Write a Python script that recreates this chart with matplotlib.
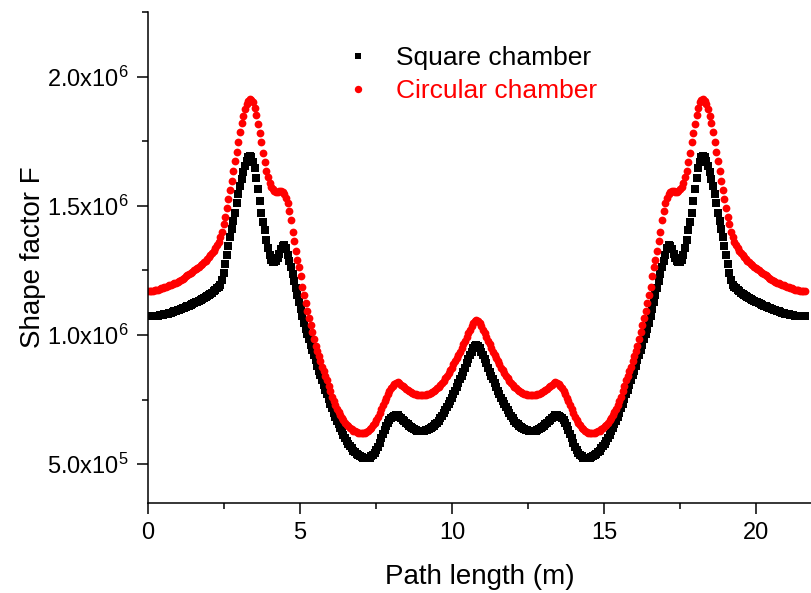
import numpy as np
import matplotlib
matplotlib.use("Agg")
import matplotlib.pyplot as plt
from matplotlib.ticker import FixedLocator, FixedFormatter

plt.rcParams['font.family'] = ['Liberation Sans', 'DejaVu Sans']
plt.rcParams['mathtext.fontset'] = 'custom'
plt.rcParams['mathtext.rm'] = 'Liberation Sans'
plt.rcParams['mathtext.default'] = 'regular'

# path length samples (m), 401 points over one 21.6 m turn
path = np.linspace(0, 21.6, 401)

# shape factor, units of 1e6
square = [
    1.072, 1.072, 1.073, 1.073, 1.074, 1.074, 1.075, 1.076, 1.077, 1.078,
    1.080, 1.081, 1.083, 1.085, 1.087, 1.089, 1.091, 1.093, 1.095, 1.098,
    1.100, 1.103, 1.106, 1.108, 1.111, 1.114, 1.117, 1.120, 1.123, 1.126,
    1.129, 1.133, 1.137, 1.140, 1.144, 1.148, 1.152, 1.156, 1.160, 1.164,
    1.169, 1.174, 1.180, 1.187, 1.195, 1.212, 1.240, 1.275, 1.310, 1.345,
    1.380, 1.412, 1.443, 1.474, 1.510, 1.545, 1.577, 1.604, 1.630, 1.655,
    1.675, 1.687, 1.693, 1.688, 1.670, 1.645, 1.608, 1.565, 1.520, 1.473,
    1.438, 1.405, 1.368, 1.335, 1.310, 1.292, 1.283, 1.281, 1.287, 1.299,
    1.314, 1.331, 1.344, 1.348, 1.336, 1.310, 1.288, 1.262, 1.236, 1.210,
    1.183, 1.155, 1.127, 1.100, 1.072, 1.046, 1.024, 1.003, 0.983, 0.963,
    0.943, 0.922, 0.902, 0.881, 0.861, 0.844, 0.826, 0.807, 0.789, 0.770,
    0.751, 0.732, 0.716, 0.700, 0.684, 0.669, 0.655, 0.640, 0.627, 0.614,
    0.602, 0.591, 0.580, 0.570, 0.561, 0.553, 0.546, 0.540, 0.535, 0.531,
    0.527, 0.525, 0.523, 0.523, 0.524, 0.526, 0.530, 0.536, 0.545, 0.555,
    0.568, 0.583, 0.600, 0.617, 0.633, 0.648, 0.661, 0.671, 0.678, 0.683,
    0.687, 0.689, 0.689, 0.684, 0.678, 0.672, 0.666, 0.660, 0.654, 0.648,
    0.643, 0.639, 0.635, 0.632, 0.630, 0.628, 0.628, 0.628, 0.629, 0.631,
    0.633, 0.636, 0.639, 0.643, 0.648, 0.654, 0.661, 0.669, 0.678, 0.688,
    0.698, 0.709, 0.721, 0.733, 0.745, 0.758, 0.771, 0.785, 0.799, 0.813,
    0.828, 0.843, 0.858, 0.874, 0.890, 0.906, 0.921, 0.936, 0.949, 0.958,
    0.963,
    0.958, 0.949, 0.936, 0.921, 0.906, 0.890, 0.874, 0.858, 0.843, 0.828,
    0.813, 0.799, 0.785, 0.771, 0.758, 0.745, 0.733, 0.721, 0.709, 0.698,
    0.688, 0.678, 0.669, 0.661, 0.654, 0.648, 0.643, 0.639, 0.636, 0.633,
    0.631, 0.629, 0.628, 0.628, 0.628, 0.630, 0.632, 0.635, 0.639, 0.643,
    0.648, 0.654, 0.660, 0.666, 0.672, 0.678, 0.684, 0.689, 0.689, 0.687,
    0.683, 0.678, 0.671, 0.661, 0.648, 0.633, 0.617, 0.600, 0.583, 0.568,
    0.555, 0.545, 0.536, 0.530, 0.526, 0.524, 0.523, 0.523, 0.525, 0.527,
    0.531, 0.535, 0.540, 0.546, 0.553, 0.561, 0.570, 0.580, 0.591, 0.602,
    0.614, 0.627, 0.640, 0.655, 0.669, 0.684, 0.700, 0.716, 0.732, 0.751,
    0.770, 0.789, 0.807, 0.826, 0.844, 0.861, 0.881, 0.902, 0.922, 0.943,
    0.963, 0.983, 1.003, 1.024, 1.046, 1.072, 1.100, 1.127, 1.155, 1.183,
    1.210, 1.236, 1.262, 1.288, 1.310, 1.336, 1.348, 1.344, 1.331, 1.314,
    1.299, 1.287, 1.281, 1.283, 1.292, 1.310, 1.335, 1.368, 1.405, 1.438,
    1.473, 1.520, 1.565, 1.608, 1.645, 1.670, 1.688, 1.693, 1.687, 1.675,
    1.655, 1.630, 1.604, 1.577, 1.545, 1.510, 1.474, 1.443, 1.412, 1.380,
    1.345, 1.310, 1.275, 1.240, 1.212, 1.195, 1.187, 1.180, 1.174, 1.169,
    1.164, 1.160, 1.156, 1.152, 1.148, 1.144, 1.140, 1.137, 1.133, 1.129,
    1.126, 1.123, 1.120, 1.117, 1.114, 1.111, 1.108, 1.106, 1.103, 1.100,
    1.098, 1.095, 1.093, 1.091, 1.089, 1.087, 1.085, 1.083, 1.081, 1.080,
    1.078, 1.077, 1.076, 1.075, 1.074, 1.074, 1.073, 1.073, 1.072, 1.072,
]

circular = [
    1.170, 1.170, 1.171, 1.172, 1.173, 1.175, 1.176, 1.178, 1.180, 1.182,
    1.184, 1.186, 1.189, 1.192, 1.194, 1.197, 1.200, 1.203, 1.207, 1.210,
    1.214, 1.218, 1.222, 1.227, 1.231, 1.236, 1.240, 1.245, 1.250, 1.255,
    1.260, 1.265, 1.270, 1.276, 1.282, 1.288, 1.294, 1.301, 1.308, 1.316,
    1.325, 1.335, 1.347, 1.361, 1.378, 1.400, 1.428, 1.458, 1.490, 1.525,
    1.560, 1.597, 1.635, 1.672, 1.710, 1.748, 1.785, 1.820, 1.848, 1.873,
    1.893, 1.906, 1.913, 1.910, 1.900, 1.880, 1.852, 1.818, 1.782, 1.745,
    1.705, 1.668, 1.636, 1.610, 1.590, 1.574, 1.564, 1.557, 1.554, 1.554,
    1.556, 1.557, 1.554, 1.546, 1.530, 1.510, 1.480, 1.444, 1.398, 1.362,
    1.326, 1.292, 1.262, 1.228, 1.185, 1.155, 1.124, 1.094, 1.065, 1.038,
    1.010, 0.983, 0.958, 0.937, 0.917, 0.898, 0.878, 0.860, 0.843, 0.825,
    0.804, 0.782, 0.762, 0.744, 0.728, 0.714, 0.701, 0.690, 0.679, 0.670,
    0.661, 0.653, 0.646, 0.640, 0.635, 0.630, 0.627, 0.624, 0.621, 0.620,
    0.620, 0.620, 0.622, 0.625, 0.629, 0.635, 0.642, 0.650, 0.660, 0.671,
    0.684, 0.698, 0.713, 0.728, 0.743, 0.757, 0.771, 0.783, 0.794, 0.803,
    0.811, 0.816, 0.818, 0.814, 0.808, 0.802, 0.797, 0.792, 0.787, 0.783,
    0.779, 0.776, 0.773, 0.771, 0.769, 0.768, 0.767, 0.767, 0.768, 0.769,
    0.771, 0.773, 0.776, 0.779, 0.783, 0.788, 0.794, 0.800, 0.807, 0.815,
    0.823, 0.832, 0.842, 0.852, 0.863, 0.874, 0.886, 0.898, 0.910, 0.923,
    0.936, 0.950, 0.964, 0.978, 0.992, 1.006, 1.020, 1.034, 1.046, 1.054,
    1.057,
    1.054, 1.046, 1.034, 1.020, 1.006, 0.992, 0.978, 0.964, 0.950, 0.936,
    0.923, 0.910, 0.898, 0.886, 0.874, 0.863, 0.852, 0.842, 0.832, 0.823,
    0.815, 0.807, 0.800, 0.794, 0.788, 0.783, 0.779, 0.776, 0.773, 0.771,
    0.769, 0.768, 0.767, 0.767, 0.768, 0.769, 0.771, 0.773, 0.776, 0.779,
    0.783, 0.787, 0.792, 0.797, 0.802, 0.808, 0.814, 0.818, 0.816, 0.811,
    0.803, 0.794, 0.783, 0.771, 0.757, 0.743, 0.728, 0.713, 0.698, 0.684,
    0.671, 0.660, 0.650, 0.642, 0.635, 0.629, 0.625, 0.622, 0.620, 0.620,
    0.620, 0.621, 0.624, 0.627, 0.630, 0.635, 0.640, 0.646, 0.653, 0.661,
    0.670, 0.679, 0.690, 0.701, 0.714, 0.728, 0.744, 0.762, 0.782, 0.804,
    0.825, 0.843, 0.860, 0.878, 0.898, 0.917, 0.937, 0.958, 0.983, 1.010,
    1.038, 1.065, 1.094, 1.124, 1.155, 1.185, 1.228, 1.262, 1.292, 1.326,
    1.362, 1.398, 1.444, 1.480, 1.510, 1.530, 1.546, 1.554, 1.557, 1.556,
    1.554, 1.554, 1.557, 1.564, 1.574, 1.590, 1.610, 1.636, 1.668, 1.705,
    1.745, 1.782, 1.818, 1.852, 1.880, 1.900, 1.910, 1.913, 1.906, 1.893,
    1.873, 1.848, 1.820, 1.785, 1.748, 1.710, 1.672, 1.635, 1.597, 1.560,
    1.525, 1.490, 1.458, 1.428, 1.400, 1.378, 1.361, 1.347, 1.335, 1.325,
    1.316, 1.308, 1.301, 1.294, 1.288, 1.282, 1.276, 1.270, 1.265, 1.260,
    1.255, 1.250, 1.245, 1.240, 1.236, 1.231, 1.227, 1.222, 1.218, 1.214,
    1.210, 1.207, 1.203, 1.200, 1.197, 1.194, 1.192, 1.189, 1.186, 1.184,
    1.182, 1.180, 1.178, 1.176, 1.175, 1.173, 1.172, 1.171, 1.170, 1.170,
]

y_ticks = [5e5, 1e6, 1.5e6, 2e6]
y_tick_labels = ["5.0x10$^5$", "1.0x10$^6$", "1.5x10$^6$", "2.0x10$^6$"]
x_ticks = [0, 5, 10, 15, 20]

fig = plt.figure(figsize=(8.12, 5.93), dpi=100)
ax = fig.add_axes([0.1823, 0.1518, 0.8165, 0.828])

ax.plot(path, np.array(square) * 1e6, 's', color='black', ms=5.2, mew=0,
        label='Square chamber')
ax.plot(path, np.array(circular) * 1e6, 'o', color='red', ms=5.6, mew=0,
        label='Circular chamber')

ax.set_xlim(0, 21.8)
ax.set_ylim(3.5e5, 2.25e6)

ax.xaxis.set_major_locator(FixedLocator(x_ticks))
ax.xaxis.set_minor_locator(FixedLocator([2.5, 7.5, 12.5, 17.5]))
ax.yaxis.set_major_locator(FixedLocator(y_ticks))
ax.yaxis.set_major_formatter(FixedFormatter(y_tick_labels))
ax.yaxis.set_minor_locator(FixedLocator([7.5e5, 1.25e6, 1.75e6, 2.25e6]))

ax.spines['top'].set_visible(False)
ax.spines['right'].set_visible(False)
for s in ['left', 'bottom']:
    ax.spines[s].set_linewidth(1.1)
ax.tick_params(which='major', direction='out', length=8, width=1.1,
               labelsize=17, pad=6)
ax.tick_params(which='minor', direction='out', length=4.5, width=1.1)

ax.set_xlabel('Path length (m)', fontsize=20, labelpad=14)
ax.set_ylabel('Shape factor F', fontsize=20, labelpad=1)

leg = ax.legend(loc='upper left', bbox_to_anchor=(0.261, 0.979), frameon=False,
                fontsize=19, handlelength=1.0, handletextpad=0.95,
                labelspacing=0.35, markerscale=0.95)
for txt, c in zip(leg.get_texts(), ['black', 'red']):
    txt.set_color(c)

fig.savefig('out.png', dpi=100)
